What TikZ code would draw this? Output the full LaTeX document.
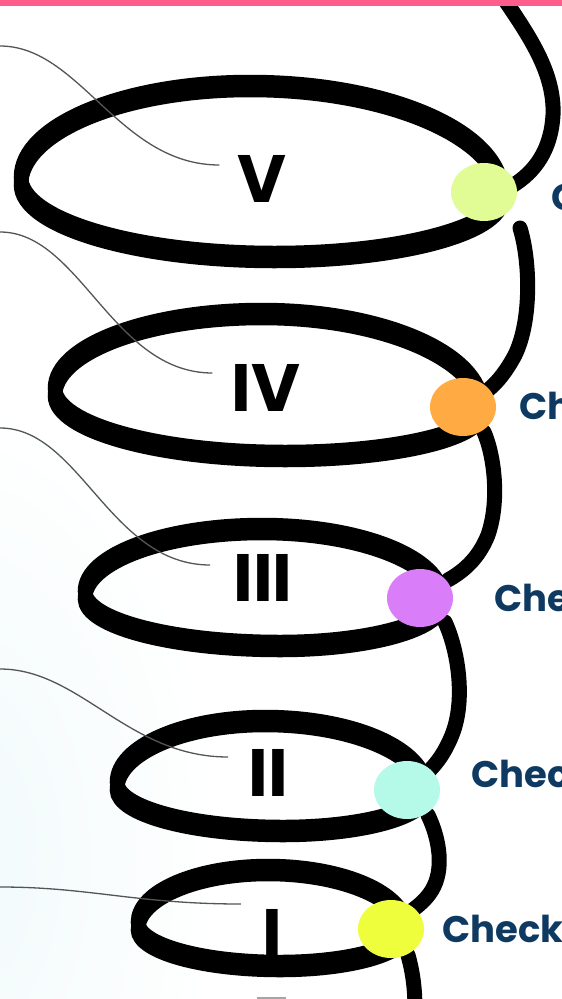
\documentclass[tikz,border=0pt]{standalone}
\usepackage{fontspec}
\newfontfamily\popfont{Poppins}
\usepackage{tikz}
\usetikzlibrary{shapes.geometric}
\definecolor{barpink}{HTML}{FF5E8C}
\definecolor{dotV}{HTML}{E1FC94}
\definecolor{dotIV}{HTML}{FFAA42}
\definecolor{dotIII}{HTML}{D97DF9}
\definecolor{dotII}{HTML}{B5F9E9}
\definecolor{dotI}{HTML}{EEFD3C}
\definecolor{navy}{HTML}{0E3A62}
\definecolor{leadgray}{HTML}{555555}
\definecolor{tint}{HTML}{F1FAFB}
\begin{document}
\begin{tikzpicture}[x=1pt,y=-1pt,
  coil/.style={line width=14.5pt, black},
  strand/.style={line width=15pt, black, line cap=round},
  dot/.style={ellipse, draw=none, minimum width=66pt, minimum height=58pt, inner sep=0pt},
  numeral/.style={inner sep=0pt, font=\popfont\bfseries\fontsize{67}{67}\selectfont},
  check/.style={inner sep=0pt, anchor=base west, text=navy, font=\popfont\bfseries\fontsize{37}{37}\selectfont},
  leader/.style={line width=1.3pt, draw=leadgray}]

\useasboundingbox (0,0) rectangle (562,999);
\clip (0,0) rectangle (562,999);

% Faint tint at the lower left
\shade[inner color=tint, outer color=white] (-40,860) ellipse (260 and 460);

% Draw back strands of the coil
\draw[strand] (498,-10) .. controls (525,30) and (555,70) .. (553,115) .. controls (551,150) and (535,172) .. (512,186);
\draw[strand] (520,228) .. controls (530,260) and (532,320) .. (515,355) .. controls (507,370) and (498,382) .. (488,390);
\draw[strand] (484,432) .. controls (494,455) and (500,500) .. (488,535) .. controls (478,560) and (462,572) .. (448,580);
\draw[strand] (445,622) .. controls (458,650) and (466,700) .. (452,735) .. controls (445,752) and (438,762) .. (428,772);
\draw[strand] (428,815) .. controls (440,840) and (444,870) .. (432,890) .. controls (426,900) and (418,906) .. (410,912);
\draw[strand] (408,955) .. controls (412,970) and (415,985) .. (415,1010);

% Draw front loops (left tip, top, right tip, bottom)
\foreach \lx/\ly/\tx/\ty/\rx/\ry/\bx/\by in {21/181/250/86/502/196/275/257, 55/392/262/314/482/410/285/456, 85/595/262/529/442/601/280/646, 117/786/265/721/426/792/283/831, 138/926/268/870/406/931/280/966}
  \foreach \d in {-4,4}
    \draw[coil, yshift=\d pt] (\lx,\ly) .. controls (\lx,{\ly-.552*(\ly-\ty)}) and ({\tx-.552*(\tx-\lx)},\ty) .. (\tx,\ty)
      .. controls ({\tx+.552*(\rx-\tx)},\ty) and (\rx,{\ry-.552*(\ry-\ty)}) .. (\rx,\ry)
      .. controls (\rx,{\ry+.552*(\by-\ry)}) and ({\bx+.552*(\rx-\bx)},\by) .. (\bx,\by)
      .. controls ({\bx-.552*(\bx-\lx)},\by) and (\lx,{\ly+.552*(\by-\ly)}) .. cycle;

% Top bar
\fill[barpink] (0,0) rectangle (562,6);

% Checkpoint dots
\node[dot, fill=dotV] (d5) at (484,192) {};
\node[dot, fill=dotIV] (d4) at (463,407) {};
\node[dot, fill=dotIII] (d3) at (420,598) {};
\node[dot, fill=dotII] (d2) at (407,790) {};
\node[dot, fill=dotI] (d1) at (391,929) {};

% Numerals
\node[numeral] (n5) at (262,179) {V};
\node[numeral] (n4) at (266,388) {IV};
\node[numeral] (n3) at (263,578) {III};
\node[numeral] (n2) at (268,773) {II};
\node[numeral] (n1) at (272,933) {I};

% Leader lines
\foreach \n/\y/\dx/\dy/\a/\b in {5/46/-18/-14/80/100, 4/232/-19/-15/80/100, 3/428/-23/-13/80/100, 2/669/-20/-16/80/100, 1/887/-21/-29/90/105}{
  \coordinate (l\n) at (0,\y);
  \draw[leader] (l\n) .. controls +(\a,0) and +(-\b,0) .. ([shift={(\dx,\dy)}]n\n.west);
}

% Labels
\node[check] (c5) at (551,210) {Check};
\node[check] (c4) at (519,419) {Check};
\node[check] (c3) at (494,611) {Check};
\node[check] (c2) at (471,787) {Check};
\node[check] (c1) at (442,942) {Check};

% Cut-off mark at the bottom
\fill[gray!70] (257,996.5) rectangle (286,999);

\end{tikzpicture}
\end{document}
